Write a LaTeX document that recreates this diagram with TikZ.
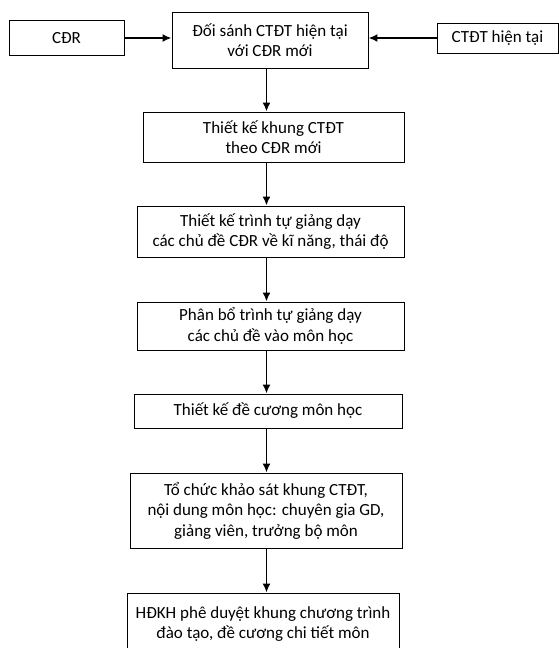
\documentclass[tikz,border=0pt]{standalone}
\usepackage{fontspec}
\setmainfont{Carlito}
\usetikzlibrary{arrows.meta}
\begin{document}
\begin{tikzpicture}[x=1pt,y=-1pt,
  box/.style={draw=black,line width=0.9pt,align=center,inner sep=0pt,
    font=\fontsize{17}{20.5}\selectfont},
  arr/.style={line width=1.8pt,-{Latex[length=9pt,width=8pt]}}]
\useasboundingbox (0,0) rectangle (559,648);
\node[box,minimum width=115pt,minimum height=35pt] (cdr) at (66.5,38) {CĐR};
\node[box,minimum width=196pt,minimum height=56pt] (main) at (270,40) {Đối sánh CTĐT hiện tại\\với CĐR mới};
\node[box,minimum width=121pt,minimum height=30pt] (ctdt) at (497.5,38) {CTĐT hiện tại};
\node[box,minimum width=261pt,minimum height=50pt] (b2) at (273.5,137) {Thiết kế khung CTĐT\\theo CĐR mới};
\node[box,minimum width=267pt,minimum height=51pt] (b3) at (270.5,231.5) {Thiết kế trình tự giảng dạy\\các chủ đề CĐR về kĩ năng, thái độ};
\node[box,minimum width=267pt,minimum height=48pt] (b4) at (270.5,326) {Phân bổ trình tự giảng dạy\\các chủ đề vào môn học};
\node[box,minimum width=268pt,minimum height=34pt] (b5) at (268,411) {Thiết kế đề cương môn học};
\node[box,minimum width=272pt,minimum height=75pt] (b6) at (266,510.5) {Tổ chức khảo sát khung CTĐT,\\nội dung môn học: chuyên gia GD,\\giảng viên, trưởng bộ môn};
\node[box,minimum width=272pt,minimum height=62pt] (b7) at (263,624) {HĐKH phê duyệt khung chương trình\\đào tạo, đề cương chi tiết môn};
\coordinate (ax) at (266.5,0);
\draw[arr] (cdr.east) -- (cdr.east -| main.west);
\draw[arr] (ctdt.west) -- (ctdt.west -| main.east);
\draw[arr] (main.south -| ax) -- (b2.north -| ax);
\draw[arr] (b2.south -| ax) -- (b3.north -| ax);
\draw[arr] (b3.south -| ax) -- (b4.north -| ax);
\draw[arr] (b4.south -| ax) -- (b5.north -| ax);
\draw[arr] (b5.south -| ax) -- (b6.north -| ax);
\draw[arr] (b6.south -| ax) -- (b7.north -| ax);
\end{tikzpicture}
\end{document}
